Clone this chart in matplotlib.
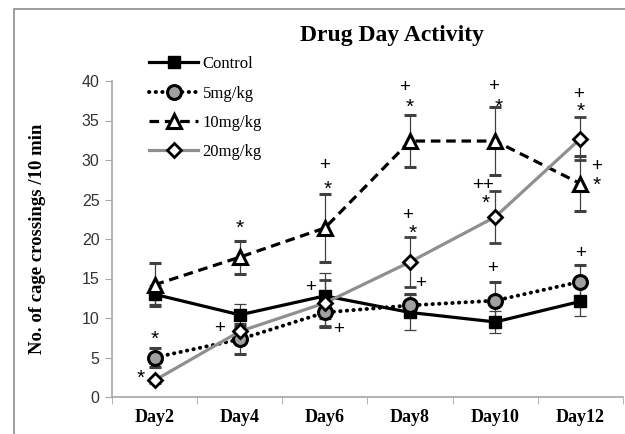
import matplotlib.pyplot as plt
import matplotlib.patches as mpatches
import numpy as np

days = ["Day2", "Day4", "Day6", "Day8", "Day10", "Day12"]

control = [13.0, 10.4, 12.8, 10.7, 9.5, 12.1]
control_err = [1.2, 1.4, 2.9, 2.2, 1.4, 1.9]
dose5 = [5.0, 7.3, 10.7, 11.6, 12.2, 14.6]
dose5_err = [1.2, 1.9, 1.9, 1.4, 2.4, 2.1]
dose10 = [14.2, 17.7, 21.4, 32.4, 32.4, 27.0]
dose10_err = [2.7, 2.1, 4.3, 3.3, 4.3, 3.5]
dose20 = [2.1, 8.3, 11.9, 17.1, 22.8, 32.7]
dose20_err = [0.3, 0.6, 2.9, 3.2, 3.3, 2.7]

# significance marks: (day index, x shift, y, text)
marks = [
    (0, 0.0, 8.1, "*"), (0, -0.16, 3.2, "*"),
    (1, 0.0, 22.2, "*"), (1, -0.24, 9.0, "+"),
    (2, 0.0, 29.6, "+"), (2, 0.03, 27.1, "*"), (2, -0.17, 14.1, "+"), (2, 0.16, 8.8, "+"),
    (3, -0.07, 39.4, "+"), (3, 0.0, 37.5, "*"), (3, -0.03, 23.2, "+"), (3, 0.03, 21.5, "*"),
    (3, 0.12, 14.7, "+"),
    (4, -0.02, 39.6, "+"), (4, 0.04, 37.5, "*"), (4, -0.14, 27.0, "++"), (4, -0.11, 25.3, "*"),
    (4, -0.03, 16.6, "+"),
    (5, -0.02, 38.6, "+"), (5, 0.0, 37.0, "*"), (5, 0.19, 29.4, "+"), (5, 0.19, 27.6, "*"),
    (5, 0.0, 18.5, "+"),
]

serif = "Liberation Serif"
sans = "Liberation Sans"

fig = plt.figure(figsize=(6.25, 4.34), dpi=100)
fig.patches.append(mpatches.Rectangle((14 / 625, -0.05), 1.0, 1.05 - 9 / 434, transform=fig.transFigure,
                                      fill=False, edgecolor="#8c8c8c", linewidth=1.2))
ax = fig.add_axes([112 / 625, 1 - 397 / 434, 511 / 625, 316 / 434])
x = np.arange(len(days))

ekw = dict(ecolor="#404040", elinewidth=0.9, capsize=4, capthick=0.9)
ax.errorbar(x, control, yerr=control_err, color="black", lw=2.3, ls="-", marker="s", ms=9,
            mfc="black", mec="black", label="Control", **ekw)
ax.errorbar(x, dose5, yerr=dose5_err, color="black", lw=2.8, ls=(0, (0.1, 1.6)), dash_capstyle="round",
            marker="o", ms=10, mfc="#a0a0a0", mec="black", mew=2.2, label="5mg/kg", **ekw)
ax.errorbar(x, dose10, yerr=dose10_err, color="black", lw=2.3, ls=(0, (3, 1.8)), marker="^", ms=10,
            mfc="white", mec="black", mew=2.2, label="10mg/kg", **ekw)
ax.errorbar(x, dose20, yerr=dose20_err, color="#8f8f8f", lw=2.3, ls="-", marker="D", ms=7,
            mfc="white", mec="black", mew=2.0, label="20mg/kg", **ekw)

# asterisks and plus signs, shifted so the glyph centre sits on the given value
for i, dx, y, t in marks:
    size, drop = (15, 8.6) if t == "*" else (13.5, 4.8)
    ax.annotate(t, (i + dx, y), xytext=(0, -drop), textcoords="offset points", ha="center",
                va="baseline", fontsize=size, family=sans, color="black")

ax.set_xlim(-0.5, len(days) - 0.5)
ax.set_ylim(0, 40)
ax.set_yticks(np.arange(0, 41, 5))
ax.set_xticks(x)
ax.set_xticklabels(days, fontfamily=serif, fontweight="bold", fontsize=13)
ax.set_xticks(np.arange(-0.5, len(days), 1.0), minor=True)
ax.tick_params(axis="x", which="major", length=0, pad=9)
ax.tick_params(axis="x", which="minor", length=5, color="#a6a6a6")
ax.tick_params(axis="y", length=5, color="#a6a6a6", labelsize=11.5, pad=4)
for lbl in ax.get_yticklabels():
    lbl.set_fontfamily(sans)
    lbl.set_color("#333333")
for s in ["top", "right"]:
    ax.spines[s].set_visible(False)
for s in ["left", "bottom"]:
    ax.spines[s].set_color("#a6a6a6")
    ax.spines[s].set_linewidth(1.2)

ax.set_ylabel("No. of cage crossings /10 min", fontfamily=serif, fontweight="bold", fontsize=13.5)
ax.yaxis.set_label_coords(-0.13, 0.5)
fig.text(392 / 625, 1 - 35 / 434, "Drug Day Activity", ha="center", va="center",
         fontfamily=serif, fontweight="bold", fontsize=17)

handles, labels = ax.get_legend_handles_labels()
fig.legend([h[0] for h in handles], labels, loc="upper left", bbox_to_anchor=(141 / 625, 1 - 48 / 434),
           frameon=False, prop={"family": serif, "size": 12}, handlelength=2.9, handletextpad=0.3,
           labelspacing=0.8, borderpad=0)

fig.savefig("out.png", dpi=100)
